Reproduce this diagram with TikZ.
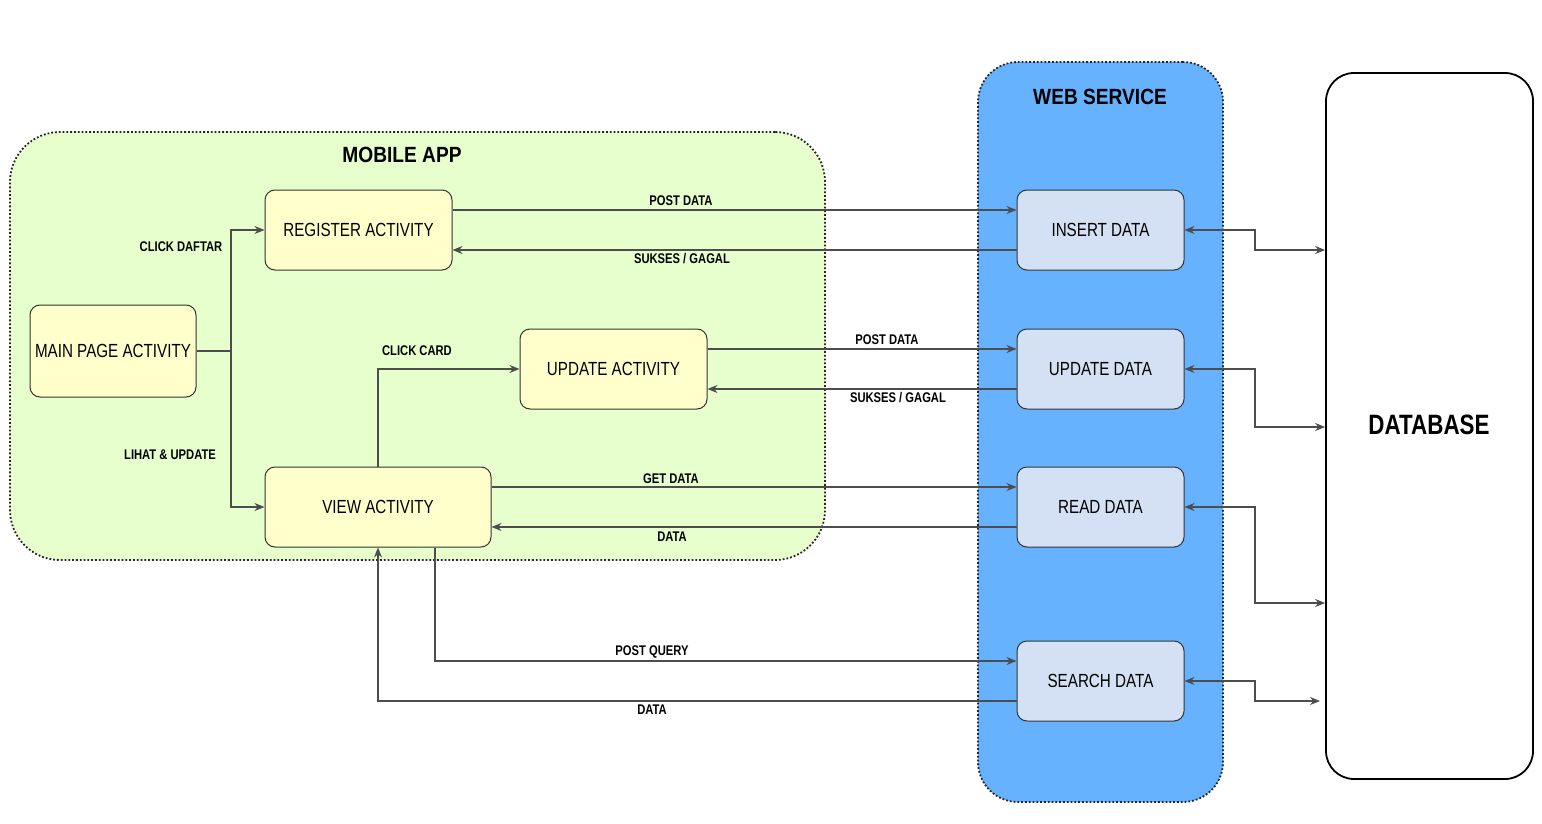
\documentclass[tikz,border=0pt]{standalone}
\usepackage{fontspec}
\setmainfont{Liberation Sans}
\newfontfamily\cf[FakeStretch=0.8]{Liberation Sans}
\newfontfamily\tf[FakeStretch=0.87]{Liberation Sans}
\usetikzlibrary{arrows.meta,positioning}
\definecolor{appgreen}{HTML}{E6FFCC}
\definecolor{actyellow}{HTML}{FFFFCC}
\definecolor{wsblue}{HTML}{66B2FF}
\definecolor{dblue}{HTML}{D4E1F5}
\definecolor{linegrey}{HTML}{4D4D4D}
\tikzset{
  container/.style={draw=black!85, densely dotted, line width=0.9pt, rounded corners=22pt},
  actbox/.style={draw=black!80, line width=0.5pt, rounded corners=5pt, fill=actyellow,
    minimum height=40pt, font=\cf\fontsize{9.5}{11}\selectfont, inner sep=0pt},
  wsbox/.style={draw=black!80, line width=0.5pt, rounded corners=5pt, fill=dblue,
    minimum width=83.5pt, minimum height=40pt, font=\cf\fontsize{9.5}{11}\selectfont, inner sep=0pt},
  conn/.style={draw=linegrey, line width=0.6pt, -{Stealth[length=5pt,width=4pt]}},
  biconn/.style={draw=linegrey, line width=0.6pt, {Stealth[length=5pt,width=4pt]}-{Stealth[length=5pt,width=4pt]}},
  lbl/.style={font=\cf\bfseries\fontsize{7}{8}\selectfont, inner sep=0pt},
  ttl/.style={font=\tf\bfseries\fontsize{11}{13}\selectfont, inner sep=0pt},
}
\begin{document}
\begin{tikzpicture}[x=0.5pt,y=-0.5pt]
\useasboundingbox (0,0) rectangle (1542,824);
\fill[white] (0,0) rectangle (1542,824);

% containers
\node[container, fill=appgreen, minimum width=407.5pt, minimum height=214pt, rounded corners=25pt] (app) at (417.5,346) {};
\node[container, fill=wsblue, minimum width=122.5pt, minimum height=370pt, rounded corners=20pt] (ws) at (1100.5,432) {};
\node[draw=black, line width=0.9pt, rounded corners=14pt, fill=white, minimum width=103.5pt, minimum height=353pt] (db) at (1429.5,426) {};

\node[ttl] (apptitle) at (402,155) {MOBILE APP};
\node[ttl] (wstitle) at (1100,97) {WEB SERVICE};
\node[font=\cf\bfseries\fontsize{14}{16}\selectfont, inner sep=0pt] (dbtitle) at (1429,425) {DATABASE};

% activities
\node[actbox, minimum width=83pt, minimum height=46pt] (main) at (113,351) {MAIN PAGE ACTIVITY};
\node[actbox, minimum width=93.5pt] (reg) at (358.5,230) {REGISTER ACTIVITY};
\node[actbox, minimum width=93.5pt] (updact) at (613.5,369) {UPDATE ACTIVITY};
\node[actbox, minimum width=113pt] (view) at (378,507) {VIEW ACTIVITY};

% web service boxes
\node[wsbox] (ins) at (1100.5,230) {INSERT DATA};
\node[wsbox] (upd) at (1100.5,369) {UPDATE DATA};
\node[wsbox] (read) at (1100.5,507) {READ DATA};
\node[wsbox] (search) at (1100.5,681) {SEARCH DATA};

% main page split
\coordinate (split) at (231,351);
\draw[draw=linegrey, line width=0.6pt] (main.east) -- (split);
\draw[conn] (split) |- (reg.west);
\draw[conn] (split) |- (view.west);
\node[lbl] (l1) at (181,247) {CLICK DAFTAR};
\node[lbl] (l2) at (170,455) {LIHAT \& UPDATE};

% view -> update activity
\draw[conn] (view.north) |- (updact.west);
\node[lbl] (l3) at (417,351) {CLICK CARD};

% register <-> insert
\draw[conn] ([yshift=10pt]reg.east) -- ([yshift=10pt]ins.west);
\draw[conn] ([yshift=-10pt]ins.west) -- ([yshift=-10pt]reg.east);
\node[lbl] (l4) at (681,201) {POST DATA};
\node[lbl] (l5) at (682,259) {SUKSES / GAGAL};

% update activity <-> update data
\draw[conn] ([yshift=10pt]updact.east) -- ([yshift=10pt]upd.west);
\draw[conn] ([yshift=-10pt]upd.west) -- ([yshift=-10pt]updact.east);
\node[lbl] (l6) at (887,340) {POST DATA};
\node[lbl] (l7) at (898,398) {SUKSES / GAGAL};

% view <-> read
\draw[conn] ([yshift=10pt]view.east) -- ([yshift=10pt]read.west);
\draw[conn] ([yshift=-10pt]read.west) -- ([yshift=-10pt]view.east);
\node[lbl] (l8) at (671,479) {GET DATA};
\node[lbl] (l9) at (672,537) {DATA};

% view <-> search
\draw[conn] ([xshift=28.5pt]view.south) |- ([yshift=10pt]search.west);
\draw[conn] ([yshift=-10pt]search.west) -| (view.south);
\node[lbl] (l10) at (652,652) {POST QUERY};
\node[lbl] (l11) at (652,710) {DATA};

% web service <-> database
\draw[biconn] (ins.east) -- (1255,230) |- (db.west |- 0,250);
\draw[biconn] (upd.east) -- (1255,369) |- (db.west |- 0,427);
\draw[biconn] (read.east) -- (1255,507) |- (db.west |- 0,603);
\draw[biconn] (search.east) -- (1255,681) |- (1320,701);
\end{tikzpicture}
\end{document}
